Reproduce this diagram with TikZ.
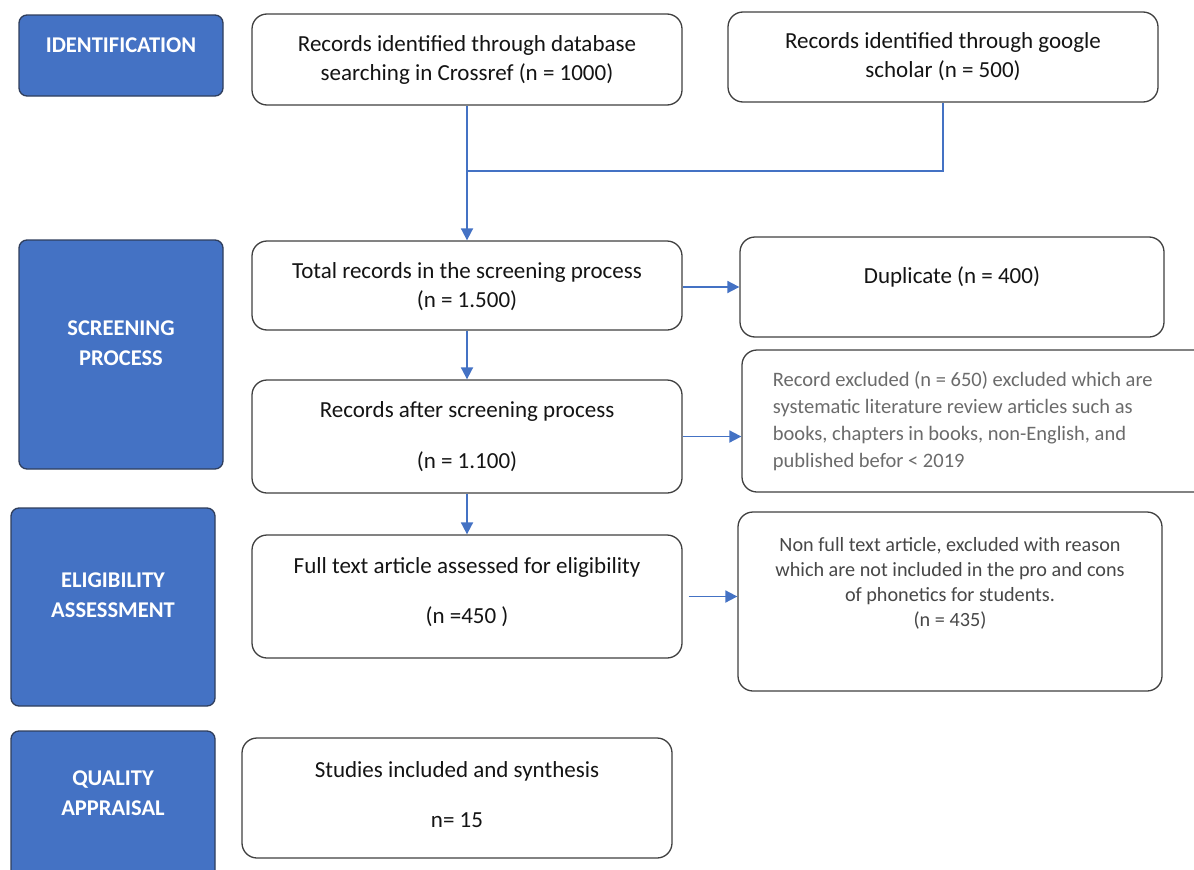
\documentclass[tikz,border=0pt]{standalone}
\usepackage{fontspec}
\setmainfont{Carlito}
\usetikzlibrary{arrows.meta}
\definecolor{phase}{HTML}{4472C4}
\definecolor{phaseline}{HTML}{2F3E5C}
\definecolor{connc}{HTML}{4472C4}
\begin{document}
\begin{tikzpicture}[x=1pt,y=-1pt,
  phasebox/.style={draw=phaseline, fill=phase, rounded corners=8pt, line width=1.3pt, inner sep=0pt},
  phasetext/.style={text=white, font=\fontsize{22.5}{30}\selectfont\bfseries, align=center},
  stepbox/.style={draw=black!75, fill=white, rounded corners=15pt, line width=1.3pt, inner sep=0pt},
  steptext/.style={font=\fontsize{23}{29}\selectfont, align=center, text=black!92},
  conn/.style={draw=connc, line width=1.8pt},
  arr/.style={conn, -{Triangle[length=12pt,width=12pt]}}]
\useasboundingbox (0,0) rectangle (1194,870);

% phase boxes
\node[phasebox, minimum width=204pt, minimum height=81pt] (ident) at (121,55.5) {};
\node[phasetext] (ident-t) at ([yshift=10pt]ident.center) {IDENTIFICATION};
\node[phasebox, minimum width=204pt, minimum height=229pt] (screen) at (121,354.5) {};
\node[phasetext] (screen-t) at ([yshift=11.5pt]screen.center) {SCREENING\\PROCESS};
\node[phasebox, minimum width=204pt, minimum height=198pt] (elig) at (113,607) {};
\node[phasetext] (elig-t) at ([yshift=11.5pt]elig.center) {ELIGIBILITY\\ASSESSMENT};
\node[phasebox, minimum width=204pt, minimum height=154pt] (qual) at (113,808) {};
\node[phasetext] (qual-t) at ([yshift=14.5pt]qual.center) {QUALITY\\APPRAISAL};

% step boxes
\node[stepbox, minimum width=430pt, minimum height=91pt] (crossref) at (467,59.5) {};
\node[steptext] (crossref-t) at (crossref.center) {Records identified through database\\searching in Crossref (n = 1000)};
\node[stepbox, minimum width=430pt, minimum height=90pt] (google) at (943,57) {};
\node[steptext] (google-t) at (google.center) {Records identified through google\\scholar (n = 500)};
\node[stepbox, minimum width=430pt, minimum height=89pt] (total) at (467,285.5) {};
\node[steptext] (total-t) at ([yshift=-1pt]total.center) {Total records in the screening process\\(n = 1.500)};
\node[stepbox, minimum width=424pt, minimum height=100pt] (dup) at (952,287) {};
\node[steptext] (dup-t) at ([yshift=10pt]dup.center) {Duplicate (n = 400)};
\node[stepbox, minimum width=430pt, minimum height=113pt] (after) at (467,436.5) {};
\node[steptext] (after-t) at (after.center) {Records after screening process\\[22pt](n = 1.100)};
\node[stepbox, minimum width=472pt, minimum height=142pt] (excl) at (978,421) {};
\node[anchor=west, align=left, font=\fontsize{20.5}{27}\selectfont, text=black!58] (excl-t) at ([xshift=28pt,yshift=-0.5pt]excl.west) {Record excluded (n = 650) excluded which are\\systematic literature review articles such as\\books, chapters in books, non-English, and\\published befor < 2019};
\node[stepbox, minimum width=430pt, minimum height=123pt] (full) at (467,596.5) {};
\node[steptext] (full-t) at ([yshift=4.5pt]full.center) {Full text article assessed for eligibility\\[21pt](n =450 )};
\node[stepbox, minimum width=424pt, minimum height=179pt] (nonfull) at (950,601.5) {};
\node[align=center, font=\fontsize{20.2}{25}\selectfont, text=black!72] (nonfull-t) at ([yshift=18.5pt]nonfull.center) {Non full text article, excluded with reason\\which are not included in the pro and cons\\of phonetics for students.\\(n = 435)};
\node[stepbox, minimum width=430pt, minimum height=120pt] (studies) at (457,798) {};
\node[steptext] (studies-t) at ([yshift=3pt]studies.center) {Studies included and synthesis\\[21pt]n= 15};

% connectors
\coordinate (join) at (467,171);
\draw[arr] (crossref.south) -- (total.north);
\draw[conn] (google.south) |- (join);
\draw[arr] (total.south) -- (after.north);
\draw[arr] (after.south) -- (full.north);
\draw[arr] (total.east |- dup.west) -- (dup.west);
\draw[arr] (after.east) -- (after.east -| excl.west);
\draw[arr] ([xshift=6pt]full.east) -- (full.east -| nonfull.west);
\end{tikzpicture}
\end{document}
